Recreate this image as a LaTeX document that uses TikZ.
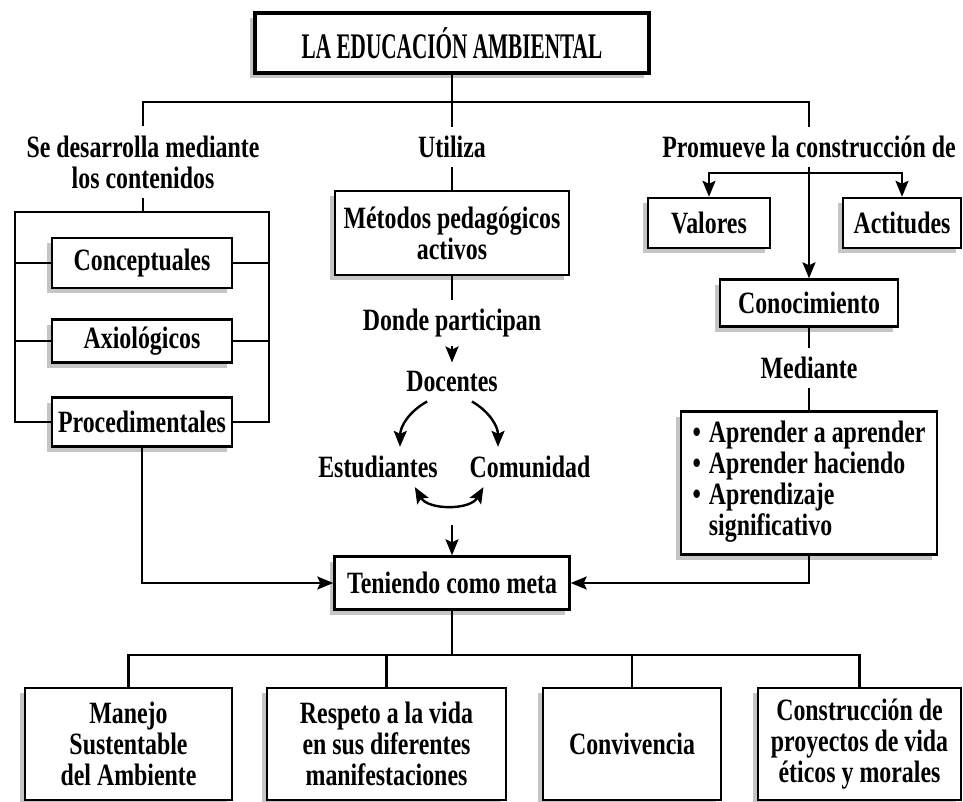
\documentclass[tikz,border=0pt]{standalone}
\usepackage{fontspec}
\setmainfont{Liberation Serif}[FakeStretch=0.77]
\newfontfamily\titulofont{Liberation Serif}[FakeStretch=0.59]
\usetikzlibrary{arrows.meta,shadows}

\tikzset{every picture/.style={line width=1.2pt}}
\tikzset{
  caja/.style={draw, fill=white, align=center, inner sep=2pt,
    drop shadow={shadow xshift=-2.5pt, shadow yshift=-2.5pt, fill=black!45}},
  etiqueta/.style={align=center, inner sep=4pt},
  flecha/.style={-{Stealth[length=8pt,width=6.5pt,inset=1.5pt]}},
  dobleflecha/.style={{Stealth[length=8pt,width=6.5pt,inset=1.5pt]}-{Stealth[length=8pt,width=6.5pt,inset=1.5pt]}},
}

\begin{document}
\begin{tikzpicture}[x=0.5pt,y=0.5pt,yscale=-1,xscale=1,
  every node/.style={font=\bfseries\fontsize{15.5}{15.5}\selectfont}]
\useasboundingbox (0,0) rectangle (963,802);

% Text Node
\draw (452,43) node [caja, line width=1.6pt, minimum width=197pt, minimum height=30pt, font=\titulofont\bfseries\fontsize{18}{18}\selectfont] (titulo) {LA EDUCACIÓN AMBIENTAL};
% Text Node
\draw (143,162) node [etiqueta] (desarrolla) {Se desarrolla mediante\\los contenidos};
% Text Node
\draw (452,147) node [etiqueta] (utiliza) {Utiliza};
% Text Node
\draw (809,147) node [etiqueta] (promueve) {Promueve la construcción de};

% Text Node
\draw (142,263) node [caja, minimum width=90pt, minimum height=25pt] (conceptuales) {Conceptuales};
% Text Node
\draw (142,341) node [caja, minimum width=90pt, minimum height=21.5pt] (axiologicos) {Axiológicos};
% Text Node
\draw (142,422) node [caja, minimum width=90pt, minimum height=24.5pt] (procedimentales) {Procedimentales};

% Text Node
\draw (452,233) node [caja, minimum width=117pt, minimum height=42pt] (metodos) {Métodos pedagógicos\\activos};
% Text Node
\draw (452,323) node [etiqueta] (donde) {Donde participan};
% Text Node
\draw (452,382) node [etiqueta] (docentes) {Docentes};
% Text Node
\draw (378,467) node [etiqueta] (estudiantes) {Estudiantes};
% Text Node
\draw (530,467) node [etiqueta] (comunidad) {Comunidad};
% Text Node
\draw (452,583) node [caja, minimum width=117.5pt, minimum height=26.5pt] (teniendo) {Teniendo como meta};

% Text Node
\draw (709,223) node [caja, minimum width=61pt, minimum height=25pt] (valores) {Valores};
% Text Node
\draw (902,223) node [caja, minimum width=59pt, minimum height=25pt] (actitudes) {Actitudes};
% Text Node
\draw (809,303) node [caja, minimum width=89pt, minimum height=23.5pt] (conocimiento) {Conocimiento};
% Text Node
\draw (809,368) node [etiqueta] (mediante) {Mediante};
% Text Node
\draw (809,483) node [caja, minimum width=128pt, minimum height=71.5pt, align=left] (aprendizaje) {\begin{tabular}{@{}l@{\hspace{4pt}}l@{}}
\textbullet & Aprender a aprender\\
\textbullet & Aprender haciendo\\
\textbullet & Aprendizaje\\
 & significativo
\end{tabular}};

% Text Node
\draw (128.5,744) node [caja, minimum width=103.5pt, minimum height=56pt] (manejo) {Manejo\\Sustentable\\del Ambiente};
% Text Node
\draw (386.5,744) node [caja, minimum width=119.5pt, minimum height=56pt] (respeto) {Respeto a la vida\\en sus diferentes\\manifestaciones};
% Text Node
\draw (632,744) node [caja, minimum width=89pt, minimum height=56pt] (convivencia) {Convivencia};
% Text Node
\draw (859.5,744) node [caja, minimum width=101.5pt, minimum height=56pt] (construccion) {Construcción de\\proyectos de vida\\éticos y morales};

\coordinate (barT) at (452,102);
\coordinate (brNO) at (15,212);
\coordinate (brNE) at (269,212);
\coordinate (barV) at (809,173);
\coordinate (metaIn) at (452,525);
\coordinate (barB) at (452,655);

% Connection
\draw (titulo) -- (barT);
% Connection
\draw (desarrolla.north) |- (barT) -| (promueve.north);
% Connection
\draw (utiliza.north) -- (barT);

% Connection
\draw (desarrolla.south) -- (desarrolla.south |- brNO);
% Connection
\draw (procedimentales.west) -| (brNO) -- (brNE) |- (procedimentales.east);
% Connection
\draw (conceptuales.west) -- (conceptuales.west -| brNO);
% Connection
\draw (conceptuales.east) -- (conceptuales.east -| brNE);
% Connection
\draw (axiologicos.west) -- (axiologicos.west -| brNO);
% Connection
\draw (axiologicos.east) -- (axiologicos.east -| brNE);
% Connection
\draw [flecha] (procedimentales.south) |- (teniendo.west);

% Connection
\draw (utiliza.south) -- (metodos.north);
% Connection
\draw (metodos.south) -- (donde.north);
% Connection
\draw [flecha] (donde.south) -- (docentes.north);
% Connection
\draw [flecha] ([xshift=15pt]docentes.south west) to [bend left=30] ([xshift=11pt]estudiantes.north);
% Connection
\draw [flecha] ([xshift=-17.5pt]docentes.south east) to [bend right=30] ([xshift=-16pt]comunidad.north);
% Connection
\draw [dobleflecha] ([xshift=-16pt]estudiantes.south east) to [bend left=60] ([xshift=11.5pt]comunidad.south west);
% Connection
\draw [flecha] (metaIn) -- (teniendo.north);

% Connection
\draw [flecha] (promueve.south) -- (conocimiento.north);
% Connection
\draw [flecha] (barV) -| (valores.north);
% Connection
\draw [flecha] (barV) -| (actitudes.north);
% Connection
\draw (conocimiento.south) -- (mediante.north);
% Connection
\draw (mediante.south) -- (aprendizaje.north);
% Connection
\draw [flecha] (aprendizaje.south) |- (teniendo.east);

% Connection
\draw (teniendo.south) -- (barB);
% Connection
\draw (manejo.north) |- (barB) -| (construccion.north);
% Connection
\draw (respeto.north) -- (respeto.north |- barB);
% Connection
\draw (convivencia.north) -- (convivencia.north |- barB);

\end{tikzpicture}
\end{document}
